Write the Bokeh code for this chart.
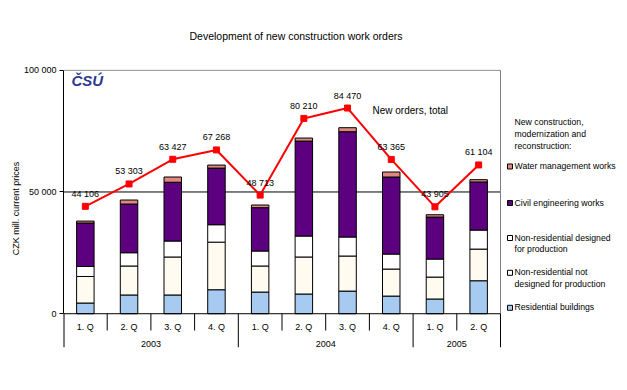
import math
from bokeh.plotting import figure
from bokeh.models import Range1d, FixedTicker, ColumnDataSource, Title
from bokeh.embed import file_html
from bokeh.resources import INLINE
from bokeh.core.properties import value

# ---------------- data ----------------
quarters = ["1. Q", "2. Q", "3. Q", "4. Q", "1. Q", "2. Q", "3. Q", "4. Q", "1. Q", "2. Q"]
years = ["2003", "2003", "2003", "2003", "2004", "2004", "2004", "2004", "2005", "2005"]

residential = [4400, 7700, 7700, 9850, 8900, 8100, 9300, 7250, 6050, 13550]
nonres_not_prod = [10900, 11900, 15600, 19550, 10700, 15200, 14400, 11100, 9000, 13000]
nonres_prod = [4100, 5450, 6550, 7150, 6150, 8600, 7800, 6150, 7400, 7800]
civil = [17850, 20000, 24150, 23250, 17800, 39000, 43250, 31650, 17250, 19750]
water = [800, 1650, 2150, 1250, 1100, 1250, 1650, 2050, 950, 950]

total_orders = [44106, 53303, 63427, 67268, 48713, 80210, 84470, 63365, 43905, 61104]

series_names = [
    "Residential buildings",
    "Non-residential not\ndesigned for production",
    "Non-residential designed\nfor production",
    "Civil engineering works",
    "Water management works",
]
series_colors = ["#A6CAF0", "#FFFBF0", "#FFFFFF", "#5C0080", "#E0877F"]

y_ticks = [0, 50000, 100000]
y_tick_labels = ["0", "50 000", "100 000"]

title_text = "Development of new construction work orders"
y_title = "CZK mill. current prices"
line_name = "New orders, total"
legend_title = "New construction,\nmodernization and\nreconstruction:"
logo_text = "ČSÚ"

# ---------------- geometry ----------------
W, H = 622, 382
ML, MR, MT = 63, 0, 69
FH = 278
MB = H - MT - FH
FW = W - ML - MR
XPX = 43.7                      # px per category
XEND = FW / XPX
YPX = 243.5 / 100000
YEND = 100300
YSTART = YEND - FH / YPX
PAGE_X0, PAGE_Y0 = ML, MT


def dx(px):
    return (px - PAGE_X0) / XPX


def dy(py):
    return YEND - (py - PAGE_Y0) / YPX


FONT = value("Liberation Sans")
n = len(quarters)
xc = [i + 0.5 for i in range(n)]

p = figure(width=W, height=H, x_range=Range1d(0, XEND), y_range=Range1d(YSTART, YEND),
           x_axis_location=None, toolbar_location=None, output_backend="svg",
           min_border_left=ML, min_border_right=MR, min_border_top=MT, min_border_bottom=MB)
p.outline_line_color = None
p.xgrid.visible = False
p.ygrid.visible = False
p.background_fill_color = "white"
p.border_fill_color = "white"

t = Title(text=title_text, align="left", offset=126, standoff=55,
          text_font="Liberation Sans", text_font_size="10.5px", text_font_style="normal",
          text_color="black")
p.add_layout(t, "above")

ax = p.yaxis[0]
ax.ticker = FixedTicker(ticks=y_ticks)
ax.major_label_overrides = {t: l for t, l in zip(y_ticks, y_tick_labels)}
ax.bounds = (0, 100000)
ax.major_tick_out = 4
ax.major_tick_in = 0
ax.minor_tick_line_color = None
ax.axis_line_color = "black"
ax.major_tick_line_color = "black"
ax.major_label_standoff = 3
ax.major_label_text_font = "Liberation Sans"
ax.major_label_text_font_size = "9px"
ax.major_label_text_color = "black"
ax.axis_label = y_title
ax.axis_label_standoff = 0
ax.axis_label_text_font = "Liberation Sans"
ax.axis_label_text_font_size = "9px"
ax.axis_label_text_font_style = "normal"
ax.axis_label_text_color = "black"

# gridline at 50 000 and plot-area border
p.segment(x0=[0], y0=[50000], x1=[n], y1=[50000], line_color="black", line_width=1)
p.segment(x0=[0, n], y0=[100000, 0], x1=[n, n], y1=[100000, 100000], line_color="#808080", line_width=1)

# stacked bars
keys = ["res", "nrn", "nrp", "civ", "wat"]
src = ColumnDataSource(dict(x=xc, res=residential, nrn=nonres_not_prod, nrp=nonres_prod,
                            civ=civil, wat=water))
p.vbar_stack(keys, x="x", width=0.4, fill_color=series_colors, line_color="black",
             line_width=1, source=src)

# category axis (two levels)
long_y = YSTART
short_y = dy(330)
p.segment(x0=[0], y0=[0], x1=[n], y1=[0], line_color="black", line_width=1)
p.segment(x0=[0], y0=[0], x1=[0], y1=[long_y], line_color="black", line_width=2)
sx, sy0, sy1 = [], [], []
for i in range(1, n + 1):
    sx.append(i)
    sy0.append(0)
    if i == n or years[i] != years[i - 1]:
        sy1.append(long_y)
    else:
        sy1.append(short_y)
p.segment(x0=sx, y0=sy0, x1=sx, y1=sy1, line_color="black", line_width=1)

p.text(x=xc, y=[dy(326.5)] * n, text=quarters, text_align="center", text_baseline="middle",
       text_font=FONT, text_font_size="9px", text_color="black")
groups = []
for i, yv in enumerate(years):
    if groups and groups[-1][0] == yv:
        groups[-1][2] = i + 1
    else:
        groups.append([yv, i, i + 1])
p.text(x=[(g[1] + g[2]) / 2 for g in groups], y=[dy(343)] * len(groups),
       text=[g[0] for g in groups], text_align="center", text_baseline="middle",
       text_font=FONT, text_font_size="9px", text_color="black")

# total line
p.line(xc, total_orders, line_color="#FF0000", line_width=2)
p.scatter(xc, total_orders, marker="square", size=6, fill_color="#FF0000", line_color="#FF0000")
p.text(x=xc, y=total_orders, text=[f"{v:,}".replace(",", " ") for v in total_orders],
       y_offset=-12.5, text_align="center", text_baseline="middle",
       text_font=FONT, text_font_size="9px", text_color="black")
p.text(x=[dx(372)], y=[dy(110)], text=[line_name], text_align="left", text_baseline="middle",
       text_font=FONT, text_font_size="10px", text_color="black")

# logo
p.text(x=[dx(71)], y=[dy(80)], text=[logo_text], text_align="left", text_baseline="middle",
       text_font=FONT, text_font_size="15px", text_font_style="bold italic", text_color="#2E3A92")

# legend
legend_py = [307.3, 272.3, 237.5, 202.5, 166.0]
p.scatter(x=[dx(509.5)] * len(series_names), y=[dy(v) for v in legend_py], marker="square",
          size=5, fill_color=series_colors, line_color="black", line_width=1)
p.text(x=[dx(514)] * len(series_names), y=[dy(v) for v in legend_py], text=series_names,
       y_offset=-5.5, text_align="left", text_baseline="top", text_line_height=1.15,
       text_font=FONT, text_font_size="8.7px", text_color="black")
p.text(x=[dx(514)], y=[dy(121.7)], text=[legend_title], y_offset=-5.5,
       text_align="left", text_baseline="top", text_line_height=1.2,
       text_font=FONT, text_font_size="8.7px", text_color="black")

open("out.html", "w").write(file_html(p, INLINE))
